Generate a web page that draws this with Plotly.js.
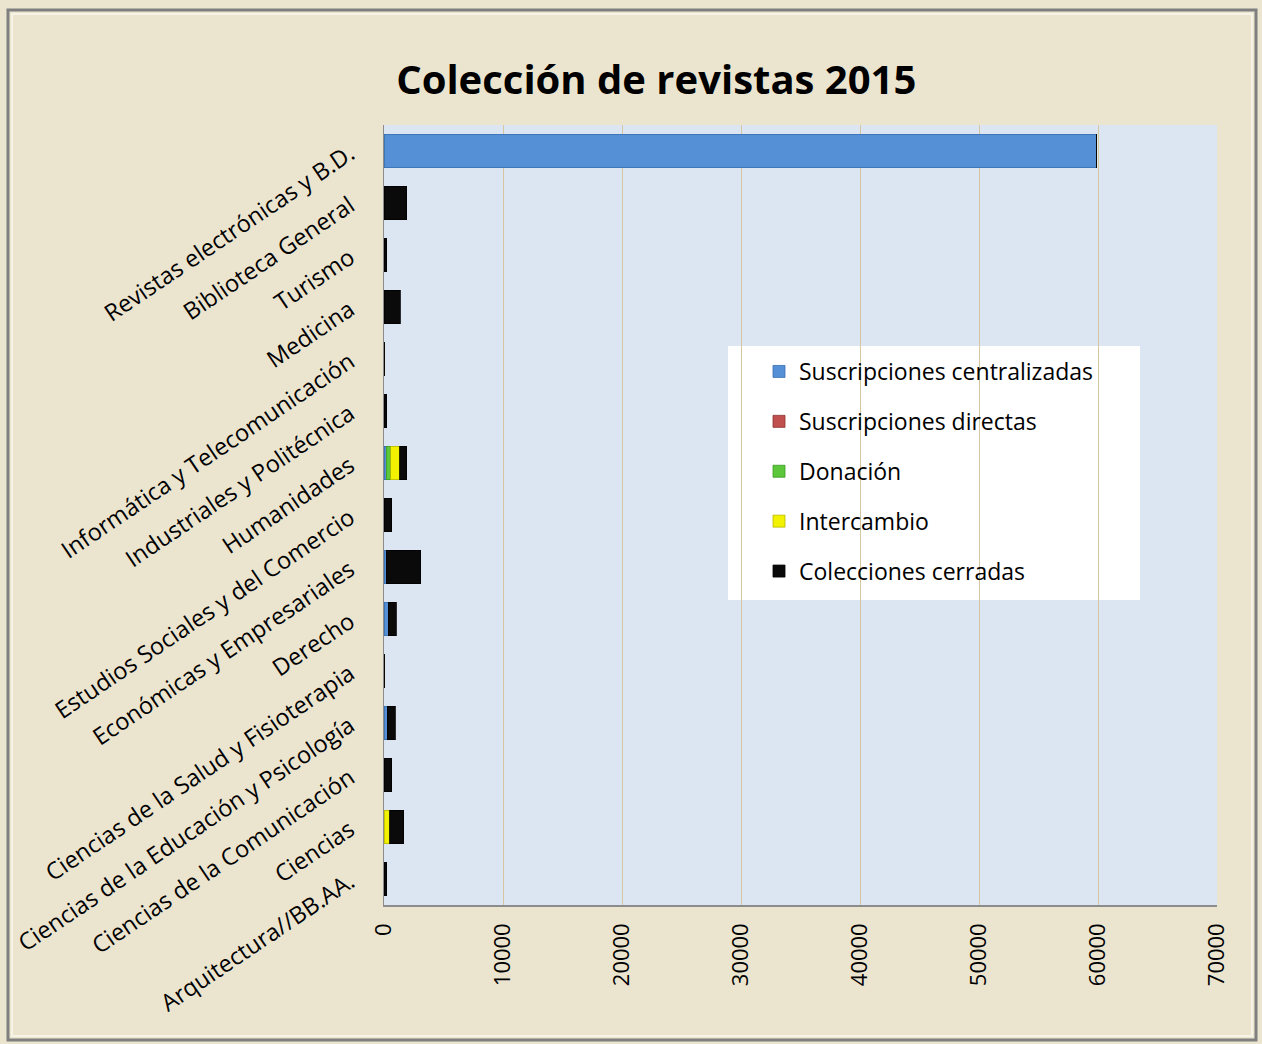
<!DOCTYPE html>
<html>
<head>
<meta charset="utf-8">
<script src="https://cdn.plot.ly/plotly-3.0.1.min.js"></script>
<style>html,body{margin:0;padding:0;background:#fff;}#chart{width:1262px;height:1044px;}</style>
</head>
<body>
<div id="chart"></div>
<script>
const categories = ["Revistas electrónicas y B.D.","Biblioteca General","Turismo","Medicina","Informática y Telecomunicación","Industriales y Politécnica","Humanidades","Estudios Sociales y del Comercio","Económicas y Empresariales","Derecho","Ciencias de la Salud y Fisioterapia","Ciencias de la Educación y Psicología","Ciencias de la Comunicación","Ciencias","Arquitectura//BB.AA."];
const seriesNames = ["Suscripciones centralizadas","Suscripciones directas","Donación","Intercambio","Colecciones cerradas"];
const centralizadas = [59900, 0, 0, 0, 60, 0, 200, 0, 200, 360, 60, 280, 0, 0, 0];
const directas      = [0, 0, 0, 0, 0, 0, 0, 0, 0, 0, 0, 0, 0, 0, 0];
const donacion      = [0, 0, 0, 0, 0, 0, 360, 0, 0, 0, 0, 0, 0, 0, 0];
const intercambio   = [0, 0, 0, 0, 0, 0, 760, 0, 0, 0, 0, 0, 0, 500, 0];
const cerradas      = [0, 1900, 250, 1350, 0, 250, 590, 650, 2900, 650, 0, 650, 650, 1180, 250];
const xTicks = [0, 10000, 20000, 30000, 40000, 50000, 60000, 70000];

const seriesValues = [centralizadas, directas, donacion, intercambio, cerradas];
const colors = ["#5590D6", "#C0504D", "#5CC73A", "#F2F200", "#0A0A0A"];
const lineColors = ["#3A6FB0", "#8E3431", "#3D9A25", "#B8B800", "#000000"];

const traces = seriesNames.map((n, i) => ({
  type: "bar", orientation: "h", name: n,
  y: categories, x: seriesValues[i],
  legendgroup: "g" + i,
  marker: {color: colors[i], line: {color: lineColors[i], width: 0.8}},
  hoverinfo: "x+y+name"
}));

// paper coordinate helpers (plot area: x 384..1217, y 125..905)
const L = 384, R = 45, T = 125, B = 139, W = 1262, H = 1044;
const pw = W - L - R, ph = H - T - B;
const px = v => (v - L) / pw;
const py = v => (H - B - v) / ph;

const layout = {
  width: W, height: H,
  margin: {l: L, r: R, t: T, b: B, pad: 0},
  paper_bgcolor: "#EBE5D0",
  plot_bgcolor: "#DCE6F2",
  barmode: "stack",
  bargap: 0.35,
  font: {family: "Open Sans, Noto Sans, sans-serif", color: "#000"},
  title: {text: "<b>Colección de revistas 2015</b>", font: {size: 40, family: "Open Sans, sans-serif", color: "#000"}, x: 0.52, xanchor: "center", y: 1 - 80/H, yanchor: "middle"},
  xaxis: {
    range: [0, 70000], tickvals: xTicks, ticktext: xTicks.map(String),
    tickangle: -90, tickfont: {size: 22, family: "Open Sans, sans-serif"},
    showgrid: true, gridcolor: "#D6C7A0", gridwidth: 1,
    zeroline: false, showline: true, linecolor: "#8C8C8C", linewidth: 1.5,
    ticks: "", ticklabelstandoff: 8, fixedrange: true
  },
  yaxis: {
    type: "category", autorange: "reversed",
    tickangle: -34, tickfont: {size: 23.5, family: "Open Sans, sans-serif"},
    showgrid: false, zeroline: false, showline: true, linecolor: "#8C8C8C", linewidth: 1.5,
    ticks: "", ticklabelstandoff: 28, fixedrange: true
  },
  legend: {
    x: px(759), y: py(350), xanchor: "left", yanchor: "top",
    bgcolor: "rgba(0,0,0,0)", borderwidth: 0,
    traceorder: "grouped", tracegroupgap: 17,
    font: {size: 23, family: "Open Sans, sans-serif"}
  },
  shapes: [
    {type: "rect", xref: "paper", yref: "paper", x0: px(728), x1: px(1140), y0: py(600), y1: py(346), fillcolor: "#FFFFFF", line: {width: 0}, layer: "below"},
    {type: "rect", xref: "paper", yref: "paper", x0: px(8), x1: px(1256), y0: py(1040), y1: py(10), fillcolor: "rgba(0,0,0,0)", line: {color: "#7F7F7F", width: 3}},
    {type: "rect", xref: "paper", yref: "paper", x0: px(12), x1: px(1252), y0: py(1036), y1: py(14), fillcolor: "rgba(0,0,0,0)", line: {color: "#F7F3E6", width: 2}}
  ],
  showlegend: true
};

Plotly.newPlot("chart", traces, layout, {displayModeBar: false, staticPlot: true});
</script>
</body>
</html>
